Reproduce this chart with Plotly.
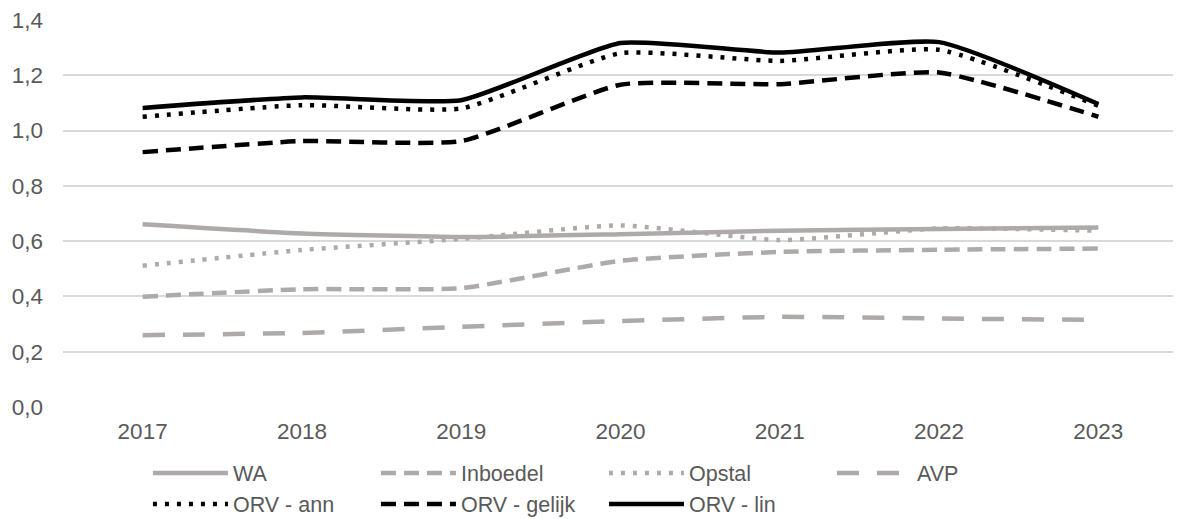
import plotly.graph_objects as go

years = ["2017", "2018", "2019", "2020", "2021", "2022", "2023"]

wa = [0.661, 0.628, 0.615, 0.625, 0.638, 0.644, 0.649]
inboedel = [0.399, 0.426, 0.430, 0.529, 0.561, 0.569, 0.573]
opstal = [0.511, 0.568, 0.608, 0.657, 0.604, 0.646, 0.638]
avp = [0.260, 0.268, 0.290, 0.311, 0.326, 0.320, 0.315]
orv_ann = [1.050, 1.092, 1.080, 1.280, 1.252, 1.292, 1.090]
orv_gelijk = [0.922, 0.962, 0.962, 1.166, 1.168, 1.210, 1.050]
orv_lin = [1.082, 1.120, 1.110, 1.317, 1.282, 1.320, 1.096]

GRAY = "#AEAAAA"
BLACK = "#000000"
W = 4.5

series = [
    ("WA", wa, GRAY, "solid"),
    ("Inboedel", inboedel, GRAY, "15px,8px"),
    ("Opstal", opstal, GRAY, "4px,8px"),
    ("AVP", avp, GRAY, "22px,18px"),
    ("ORV - ann", orv_ann, BLACK, "4px,8px"),
    ("ORV - gelijk", orv_gelijk, BLACK, "15px,8px"),
    ("ORV - lin", orv_lin, BLACK, "solid"),
]

fig = go.Figure()
for name, vals, col, dash in series:
    fig.add_trace(go.Scatter(
        x=years, y=vals, name=name, mode="lines",
        line=dict(color=col, width=W, dash=dash, shape="spline", smoothing=0.5),
    ))

FONT = "Liberation Sans, Arial, sans-serif"
FS = 22.5
LFS = 21.5
fig.update_layout(
    width=1181, height=519,
    margin=dict(l=55, r=11, t=12, b=120, autoexpand=False),
    paper_bgcolor="white", plot_bgcolor="white",
    separators=",.",
    font=dict(family=FONT, size=FS, color="#595959"),
    showlegend=True,
    legend=dict(
        orientation="h", xref="container", yref="container",
        x=0.1185, y=0.1435, xanchor="left", yanchor="top",
        entrywidth=138, entrywidthmode="pixels",
        itemwidth=75, tracegroupgap=0,
        font=dict(family=FONT, size=LFS, color="#595959"),
        bgcolor="rgba(0,0,0,0)",
    ),
    xaxis=dict(
        type="category", range=[-0.5, 6.5], showgrid=False, zeroline=False,
        showline=False, ticks="", automargin=False, ticklabelstandoff=8,
        tickfont=dict(size=FS, color="#595959"),
    ),
    yaxis=dict(
        range=[0, 1.4], dtick=0.2, tickformat=".1f",
        showgrid=True, gridcolor="#D9D9D9", gridwidth=1.5,
        zeroline=False, showline=False, ticks="", automargin=False,
        ticklabelstandoff=19, ticklabeloverflow="allow",
        tickfont=dict(size=FS, color="#595959"),
    ),
)

fig.write_html("out.html")
